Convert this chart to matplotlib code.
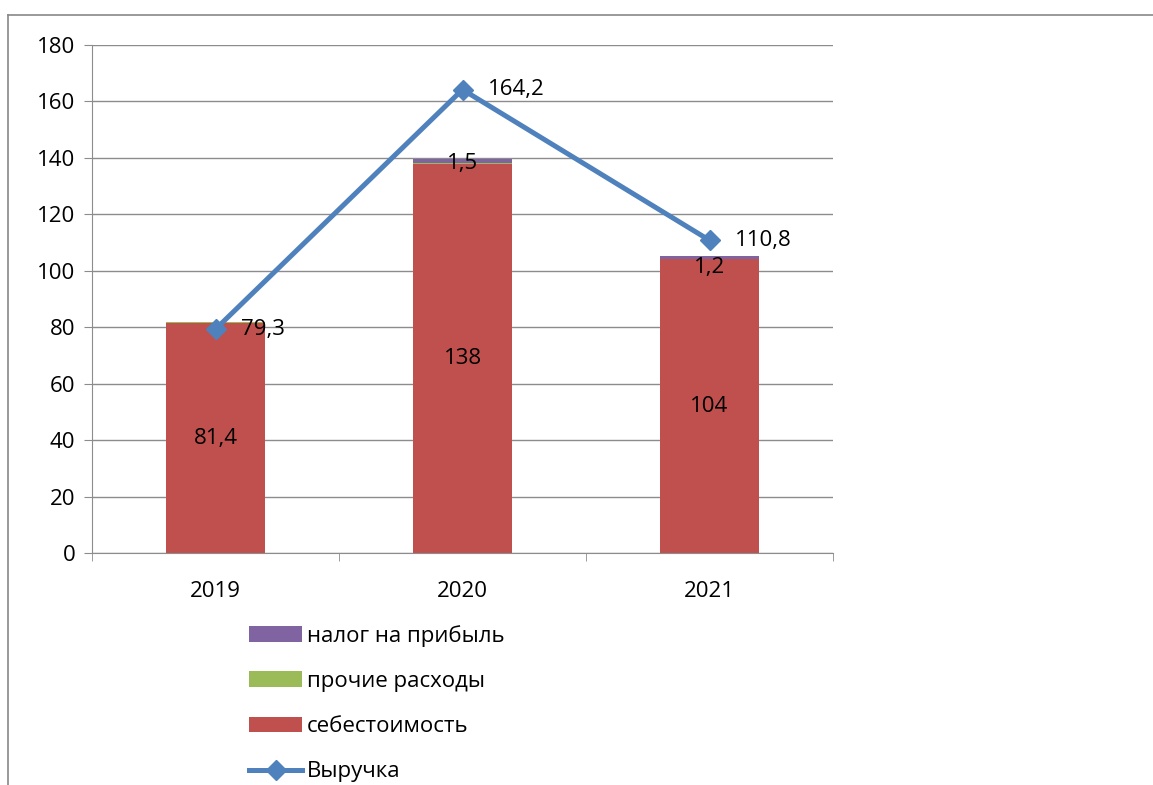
import matplotlib
matplotlib.use("Agg")
import matplotlib.pyplot as plt
from matplotlib.lines import Line2D
from matplotlib.patches import Patch
import numpy as np

plt.rcParams['font.family'] = ['Open Sans', 'DejaVu Sans']

years = ["2019", "2020", "2021"]
cost = [81.4, 138, 104]          # себестоимость
other = [0.3, 0.2, 0.2]          # прочие расходы
tax = [0.0, 1.5, 1.2]            # налог на прибыль
revenue = [79.3, 164.2, 110.8]   # Выручка

cost_labels = ["81,4", "138", "104"]
tax_labels = ["", "1,5", "1,2"]
rev_labels = ["79,3", "164,2", "110,8"]
yticks = [0, 20, 40, 60, 80, 100, 120, 140, 160, 180]

c_cost = "#C0504D"
c_other = "#9BBB59"
c_tax = "#8064A2"
c_rev = "#4F81BD"
grid_c = "#8C8C8C"

fig = plt.figure(figsize=(11.53, 7.85), dpi=100)
ax = fig.add_axes([92/1153, 1-553/785, (833-92)/1153, (553-45)/785])

x = np.arange(len(years))
w = 0.4
ax.bar(x, cost, w, color=c_cost, zorder=2)
ax.bar(x, other, w, bottom=cost, color=c_other, zorder=2)
bot2 = [a + b for a, b in zip(cost, other)]
ax.bar(x, tax, w, bottom=bot2, color=c_tax, zorder=2)

ax.plot(x, revenue, color=c_rev, lw=3.6, marker="D", ms=10, zorder=4)

fs = 16
tax_offsets = [0, -0.8, -3.5]
for i in range(len(years)):
    ax.text(x[i], cost[i] / 2, cost_labels[i], ha="center", va="center", fontsize=fs, zorder=5)
    if tax_labels[i]:
        ax.text(x[i], bot2[i] + tax[i] / 2 + tax_offsets[i], tax_labels[i], ha="center", va="center", fontsize=fs, zorder=5)
    ax.text(x[i] + 0.105, revenue[i], rev_labels[i], ha="left", va="center", fontsize=fs, zorder=5)

ax.set_xlim(-0.5, 2.5)
ax.set_ylim(0, 180)
ax.set_yticks(yticks)
ax.set_yticklabels([str(v) for v in yticks], fontsize=fs)
ax.yaxis.grid(True, color=grid_c, lw=1, zorder=0)
ax.set_axisbelow(True)

ax.set_xticks(x)
ax.set_xticklabels(years, fontsize=fs)
ax.tick_params(axis="x", length=0, pad=20)
ax.set_xticks([-0.5, 0.5, 1.5, 2.5], minor=True)
ax.tick_params(axis="x", which="minor", length=6, color=grid_c, direction="out")
ax.tick_params(axis="y", length=6, color=grid_c, direction="out", pad=6)

for s in ["top", "right"]:
    ax.spines[s].set_visible(False)
for s in ["left", "bottom"]:
    ax.spines[s].set_color(grid_c)

# outer frame
fig.add_artist(Line2D([8/1153, 1], [1-15/785, 1-15/785], color="#888888", lw=1.2, transform=fig.transFigure))
fig.add_artist(Line2D([8/1153, 8/1153], [1-15/785, 0], color="#888888", lw=1.2, transform=fig.transFigure))

handles = [
    Patch(facecolor=c_tax, edgecolor="none"),
    Patch(facecolor=c_other, edgecolor="none"),
    Patch(facecolor=c_cost, edgecolor="none"),
    Line2D([0], [0], color=c_rev, lw=3.6, marker="D", ms=10),
]
labels = ["налог на прибыль", "прочие расходы", "себестоимость", "Выручка"]
fig.legend(handles, labels, loc="upper left", bbox_to_anchor=(240/1153, 1-616/785),
           frameon=False, fontsize=fs, handlelength=2.4, handleheight=0.7,
           handletextpad=0.2, labelspacing=1.09, borderaxespad=0)

fig.savefig("out.png", dpi=100)
